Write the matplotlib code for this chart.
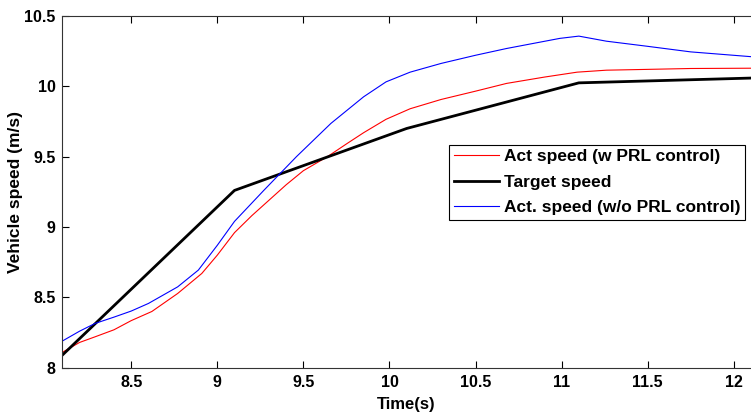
import numpy as np
import matplotlib.pyplot as plt

plt.rcParams['font.family'] = ['Liberation Sans', 'DejaVu Sans']
plt.rcParams['font.weight'] = 'bold'

# valori
t_target = [8.1, 9.1, 10.1, 11.1, 12.1]
v_target = [8.09, 9.26, 9.70, 10.024, 10.058]

t_red = [8.1, 8.2, 8.29, 8.4, 8.5, 8.62, 8.77, 8.91, 9.0, 9.1, 9.2, 9.3, 9.4, 9.5,
         9.64, 9.75, 9.85, 9.98, 10.12, 10.3, 10.5, 10.68, 10.9, 11.09, 11.26, 11.55, 11.75, 12.1]
v_red = [8.11, 8.18, 8.22, 8.27, 8.335, 8.40, 8.528, 8.67, 8.80, 8.96, 9.08, 9.19, 9.30, 9.40,
         9.50, 9.59, 9.67, 9.765, 9.84, 9.906, 9.965, 10.02, 10.065, 10.10, 10.114, 10.121, 10.126, 10.128]

t_blue = [8.1, 8.2, 8.29, 8.4, 8.5, 8.6, 8.77, 8.89, 9.0, 9.1, 9.27, 9.46, 9.66,
          9.85, 9.98, 10.12, 10.3, 10.5, 10.68, 10.99, 11.1, 11.26, 11.49, 11.75, 12.1]
v_blue = [8.19, 8.26, 8.315, 8.36, 8.403, 8.457, 8.575, 8.694, 8.87, 9.04, 9.26, 9.50, 9.736,
          9.925, 10.031, 10.10, 10.162, 10.22, 10.268, 10.34, 10.356, 10.32, 10.285, 10.244, 10.21]

fig = plt.figure(figsize=(7.51, 4.17), dpi=100)
ax = fig.add_axes([0.083, 0.118, 0.917, 0.844])

ax.plot(t_red, v_red, color='red', linewidth=0.8, label='Act speed (w PRL control)')
ax.plot(t_target, v_target, color='black', linewidth=2, label='Target speed')
ax.plot(t_blue, v_blue, color='blue', linewidth=0.8, label='Act. speed (w/o PRL control)')

ax.set_xlim(8.1, 12.1)
ax.set_ylim(8, 10.5)
ax.set_xticks([8.5, 9, 9.5, 10, 10.5, 11, 11.5, 12])
ax.set_xticklabels(['8.5', '9', '9.5', '10', '10.5', '11', '11.5', '12'])
ax.set_yticks([8, 8.5, 9, 9.5, 10, 10.5])
ax.set_yticklabels(['8', '8.5', '9', '9.5', '10', '10.5'])
ax.tick_params(direction='in', length=5, width=0.8, top=True, right=False,
               labelsize=11.5, pad=5)
ax.spines['right'].set_visible(False)
for s in ['left', 'bottom', 'top']:
    ax.spines[s].set_linewidth(0.8)
    ax.spines[s].set_color('#333333')

ax.set_xlabel('Time(s)', fontsize=12, fontweight='bold', labelpad=5)
ax.set_ylabel('Vehicle speed (m/s)', fontsize=12.5, fontweight='bold', labelpad=1)

leg = ax.legend(loc='upper left', bbox_to_anchor=(0.562, 0.634), fontsize=12.5,
                frameon=True, fancybox=False, edgecolor='black', framealpha=1,
                handlelength=2.6, handletextpad=0.3, labelspacing=0.6,
                borderpad=0.25, borderaxespad=0)
leg.get_frame().set_linewidth(0.8)
for txt in leg.get_texts():
    txt.set_fontweight('bold')

fig.savefig('out.png', dpi=100)
